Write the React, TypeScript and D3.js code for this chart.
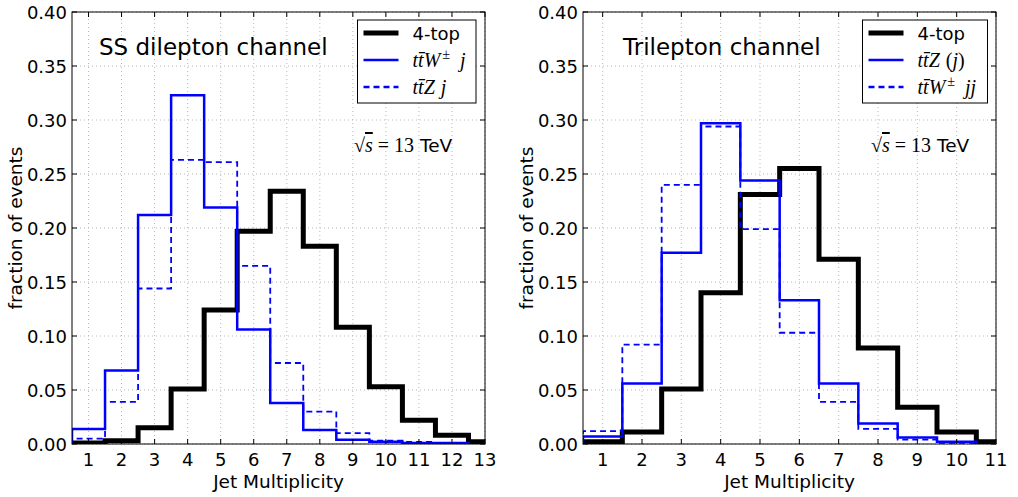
import React from "react";
import * as d3 from "d3";

// ---- Data ----
const leftBins = [1, 2, 3, 4, 5, 6, 7, 8, 9, 10, 11, 12, 13];
const leftFourTop = [0.001, 0.003, 0.015, 0.051, 0.124, 0.197, 0.234, 0.183, 0.108, 0.053, 0.022, 0.008, 0.002];
const leftTtWj = [0.014, 0.068, 0.212, 0.323, 0.219, 0.106, 0.038, 0.013, 0.004, 0.002, 0.001, 0.001];
const leftTtZj = [0.005, 0.039, 0.144, 0.263, 0.261, 0.165, 0.075, 0.030, 0.010, 0.003, 0.002, 0.001];

const rightBins = [1, 2, 3, 4, 5, 6, 7, 8, 9, 10, 11];
const rightFourTop = [0.002, 0.011, 0.051, 0.140, 0.231, 0.255, 0.171, 0.089, 0.034, 0.011, 0.002];
const rightTtZj = [0.007, 0.056, 0.177, 0.297, 0.244, 0.133, 0.056, 0.019, 0.006, 0.002];
const rightTtWjj = [0.012, 0.092, 0.240, 0.294, 0.199, 0.103, 0.039, 0.014, 0.004, 0.001];

const yTicks = [0, 0.05, 0.1, 0.15, 0.2, 0.25, 0.3, 0.35, 0.4];
const leftXTicks = [1, 2, 3, 4, 5, 6, 7, 8, 9, 10, 11, 12, 13];
const rightXTicks = [1, 2, 3, 4, 5, 6, 7, 8, 9, 10, 11];

const SANS = "'DejaVu Sans', sans-serif";
const SERIF = "'Liberation Serif', 'DejaVu Serif', serif";
const BLUE = "#0000ff";

type Series = { values: number[]; color: string; width: number; dash?: string };

function stepPoints(bins: number[], values: number[]): [number, number][] {
  const pts: [number, number][] = [];
  pts.push([bins[0] - 0.5, 0]);
  values.forEach((v, i) => {
    pts.push([bins[i] - 0.5, v]);
    pts.push([bins[i] + 0.5, v]);
  });
  pts.push([bins[values.length - 1] + 0.5, 0]);
  return pts;
}

function LegendLabel({ kind }: { kind: string }) {
  const it = { fontFamily: SERIF, fontStyle: "italic" as const };
  if (kind === "4top") return <tspan fontFamily={SANS}>4-top</tspan>;
  if (kind === "ttWj" || kind === "ttWjj")
    return (
      <>
        <tspan {...it}>t</tspan>
        <tspan {...it}>{"t\u0304"}</tspan>
        <tspan {...it}>W</tspan>
        <tspan {...it} fontSize={14} dy={-8} dx={2}>±</tspan>
        <tspan {...it} dy={8} dx={10}>{kind === "ttWj" ? "j" : "jj"}</tspan>
      </>
    );
  if (kind === "ttZj")
    return (
      <>
        <tspan {...it}>t</tspan>
        <tspan {...it}>{"t\u0304"}</tspan>
        <tspan {...it}>Z</tspan>
        <tspan {...it} dx={6}>j</tspan>
      </>
    );
  // ttZ (j)
  return (
    <>
      <tspan {...it}>t</tspan>
      <tspan {...it}>{"t\u0304"}</tspan>
      <tspan {...it}>Z</tspan>
      <tspan fontFamily={SERIF} dx={6}>(</tspan>
      <tspan {...it}>j</tspan>
      <tspan fontFamily={SERIF}>)</tspan>
    </>
  );
}

function Panel({
  id,
  x0,
  x1,
  xMax,
  bins,
  xTicks,
  series,
  title,
  titleX,
  legendKinds,
  legendX,
  legendW,
  sqrtX,
  yLabelX,
}: {
  id: string;
  x0: number;
  x1: number;
  xMax: number;
  bins: number[];
  xTicks: number[];
  series: Series[];
  title: string;
  titleX: number;
  legendKinds: string[];
  legendX: number;
  legendW: number;
  sqrtX: number;
  yLabelX: number;
}) {
  const y0 = 444;
  const y1 = 12;
  const x = d3.scaleLinear().domain([0.5, xMax]).range([x0, x1]);
  const y = d3.scaleLinear().domain([0, 0.4]).range([y0, y1]);
  const line = d3
    .line<[number, number]>()
    .x((d) => x(d[0]))
    .y((d) => y(d[1]));
  const fmt = d3.format(".2f");
  const tickLen = 5;
  return (
    <g>
      <defs>
        <clipPath id={`clip-${id}`}>
          <rect x={x0} y={y1} width={x1 - x0} height={y0 - y1} />
        </clipPath>
      </defs>
      <rect x={x0} y={y1} width={x1 - x0} height={y0 - y1} fill="white" />
      {/* grid */}
      <g stroke="#b8b8b8" strokeWidth={1} strokeDasharray="1,3">
        {xTicks.map((t) => (
          <line key={"gx" + t} x1={x(t)} x2={x(t)} y1={y0} y2={y1} />
        ))}
        {yTicks.map((t) => (
          <line key={"gy" + t} x1={x0} x2={x1} y1={y(t)} y2={y(t)} />
        ))}
      </g>
      {/* series */}
      <g clipPath={`url(#clip-${id})`} fill="none">
        {series.map((s, i) => (
          <path
            key={i}
            d={line(stepPoints(bins, s.values)) || ""}
            stroke={s.color}
            strokeWidth={s.width}
            strokeDasharray={s.dash}
            strokeLinejoin="miter"
            strokeLinecap="butt"
          />
        ))}
      </g>
      {/* spines */}
      <rect x={x0} y={y1} width={x1 - x0} height={y0 - y1} fill="none" stroke="black" strokeWidth={1} />
      {/* ticks */}
      <g stroke="black" strokeWidth={1}>
        {xTicks.map((t) => (
          <g key={"tx" + t}>
            <line x1={x(t)} x2={x(t)} y1={y0} y2={y0 - tickLen} />
            <line x1={x(t)} x2={x(t)} y1={y1} y2={y1 + tickLen} />
          </g>
        ))}
        {yTicks.map((t) => (
          <g key={"ty" + t}>
            <line x1={x0} x2={x0 + tickLen} y1={y(t)} y2={y(t)} />
            <line x1={x1} x2={x1 - tickLen} y1={y(t)} y2={y(t)} />
          </g>
        ))}
      </g>
      {/* tick labels */}
      <g fontFamily={SANS} fontSize={18} fill="black">
        {xTicks.map((t) => (
          <text key={"lx" + t} x={x(t)} y={466} textAnchor="middle">
            {t}
          </text>
        ))}
        {yTicks.map((t) => (
          <text key={"ly" + t} x={x0 - 5} y={y(t) + 6.5} textAnchor="end">
            {fmt(t)}
          </text>
        ))}
      </g>
      {/* axis labels */}
      <text x={(x0 + x1) / 2} y={488} textAnchor="middle" fontFamily={SANS} fontSize={18.5}>
        Jet Multiplicity
      </text>
      <text
        transform={`translate(${yLabelX},${(y0 + y1) / 2}) rotate(-90)`}
        textAnchor="middle"
        fontFamily={SANS}
        fontSize={18.5}
      >
        fraction of events
      </text>
      {/* title */}
      <text x={titleX} y={55} fontFamily={SANS} fontSize={23}>
        {title}
      </text>
      {/* sqrt s */}
      <text x={sqrtX} y={152} fontSize={20}>
        <tspan fontFamily={SERIF}>√</tspan>
        <tspan fontFamily={SERIF} fontStyle="italic" style={{ textDecoration: "overline" }}>
          s
        </tspan>
        <tspan fontFamily={SERIF} dx={5}>=</tspan>
        <tspan fontFamily={SERIF} dx={5}>13</tspan>
        <tspan fontFamily={SANS} fontSize={18.5} dx={6}>TeV</tspan>
      </text>
      {/* legend */}
      <g>
        <rect x={legendX} y={20} width={legendW} height={83} fill="white" stroke="black" strokeWidth={1} />
        {legendKinds.map((k, i) => {
          const ly = 33 + i * 27;
          const s = series[i];
          return (
            <g key={k}>
              <line
                x1={legendX + 6}
                x2={legendX + 41}
                y1={ly}
                y2={ly}
                stroke={s.color}
                strokeWidth={i === 0 ? 5 : 2.5}
                strokeDasharray={s.dash ? "6,4" : undefined}
              />
              <text x={legendX + 55} y={ly + 6.5} fontSize={k === "4top" ? 18 : 20}>
                <LegendLabel kind={k} />
              </text>
            </g>
          );
        })}
      </g>
    </g>
  );
}

export default function App() {
  return (
    <svg
      width={1018}
      height={497}
      style={{ position: "absolute", left: 0, top: 0, background: "white" }}
    >
      <rect x={0} y={0} width={1018} height={497} fill="white" />
      <Panel
        id="left"
        x0={72}
        x1={485}
        xMax={13}
        bins={leftBins}
        xTicks={leftXTicks}
        series={[
          { values: leftFourTop, color: "black", width: 5 },
          { values: leftTtWj, color: BLUE, width: 2.5 },
          { values: leftTtZj, color: BLUE, width: 1.8, dash: "6,4" },
        ]}
        title="SS dilepton channel"
        titleX={99}
        legendKinds={["4top", "ttWj", "ttZj"]}
        legendX={357.5}
        legendW={118.5}
        sqrtX={354}
        yLabelX={22}
      />
      <Panel
        id="right"
        x0={583}
        x1={996}
        xMax={11}
        bins={rightBins}
        xTicks={rightXTicks}
        series={[
          { values: rightFourTop, color: "black", width: 5 },
          { values: rightTtZj, color: BLUE, width: 2.5 },
          { values: rightTtWjj, color: BLUE, width: 1.8, dash: "6,4" },
        ]}
        title="Trilepton channel"
        titleX={623}
        legendKinds={["4top", "ttZ(j)", "ttWjj"]}
        legendX={862.5}
        legendW={125}
        sqrtX={871}
        yLabelX={533}
      />
    </svg>
  );
}
